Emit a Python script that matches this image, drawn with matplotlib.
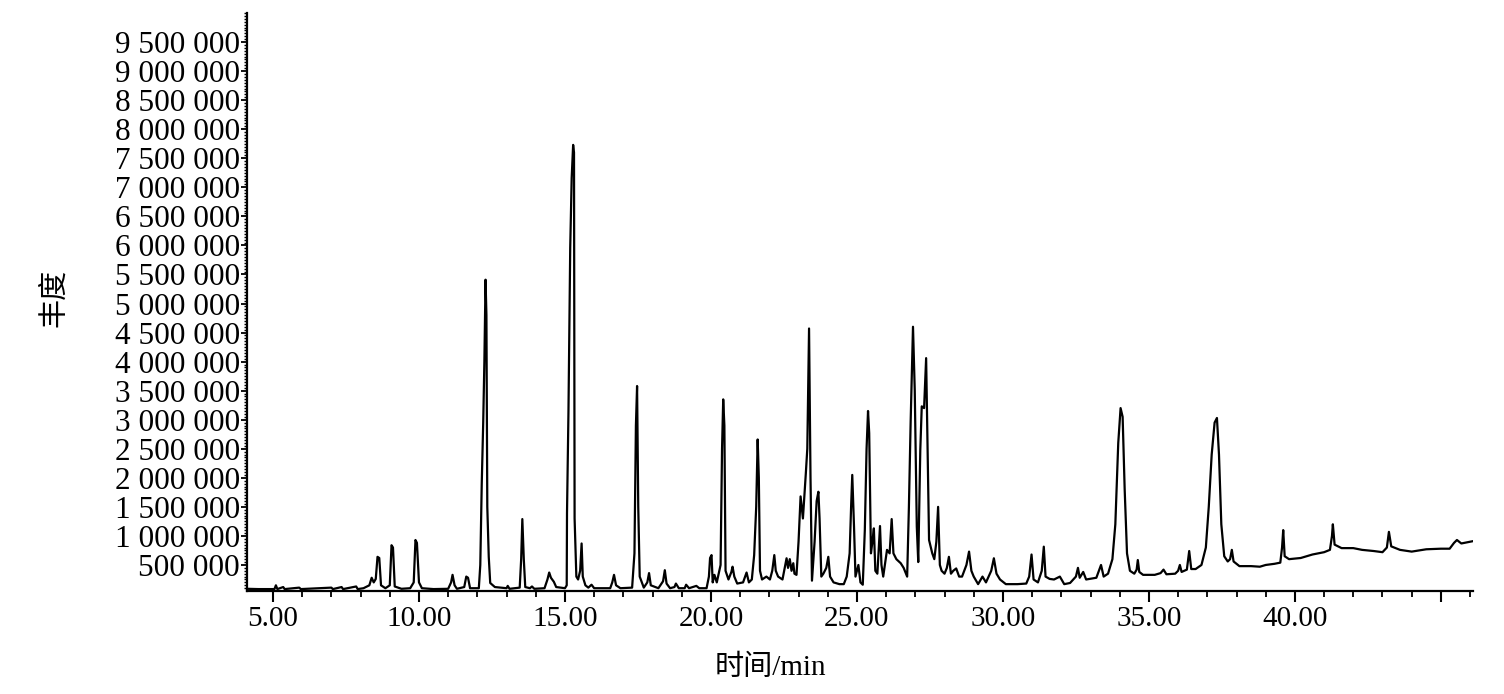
import matplotlib
matplotlib.use('Agg')
import matplotlib.pyplot as plt
from matplotlib.ticker import MultipleLocator, FixedLocator

# Chromatogram trace (retention time in min, abundance)
t_early = [4.11, 4.5, 5.05, 5.1, 5.15, 5.35, 5.4, 5.9, 5.95, 7.0, 7.05, 7.35, 7.4, 7.85, 7.9,
           8.1, 8.3, 8.38, 8.45, 8.52, 8.58, 8.64, 8.7, 8.85, 9.0, 9.06, 9.11, 9.17, 9.4, 9.7,
           9.82, 9.88, 9.93, 10.0, 10.1, 10.5, 11.0, 11.1, 11.15, 11.22, 11.3, 11.55, 11.62,
           11.68, 11.75, 12.05]
y_early = [90000, 85000, 85000, 150000, 85000, 120000, 85000, 110000, 85000, 110000, 85000,
           120000, 85000, 130000, 85000, 100000, 150000, 280000, 200000, 260000, 640000,
           620000, 150000, 100000, 150000, 840000, 800000, 130000, 90000, 100000, 200000,
           930000, 880000, 200000, 100000, 85000, 90000, 200000, 330000, 150000, 90000,
           120000, 300000, 280000, 100000, 100000]

t_mid = [12.1, 12.15, 12.2, 12.24, 12.28, 12.31, 12.34, 12.39, 12.44, 12.6, 13.0, 13.04, 13.1,
         13.45, 13.5, 13.54, 13.59, 13.64, 13.8, 13.87, 13.95, 14.3, 14.4, 14.46, 14.52, 14.62,
         14.7, 15.0, 15.06, 15.07, 15.12, 15.15, 15.18, 15.23, 15.28, 15.31, 15.33, 15.39,
         15.45, 15.52, 15.57, 15.61, 15.7, 15.8, 15.91, 16.0, 16.55, 16.62, 16.68, 16.75,
         16.9, 17.3, 17.38, 17.43, 17.47, 17.51, 17.56, 17.7, 17.82, 17.88, 17.94, 18.2,
         18.36, 18.42, 18.48, 18.6, 18.75, 18.8, 18.9, 19.1, 19.15, 19.25, 19.5, 19.6, 19.85]
y_mid = [500000, 1900000, 2950000, 4000000, 5410000, 4800000, 1500000, 640000, 190000, 120000,
         100000, 140000, 90000, 110000, 600000, 1290000, 600000, 120000, 100000, 130000,
         90000, 100000, 250000, 370000, 280000, 210000, 120000, 100000, 150000, 1390000,
         3140000, 4580000, 5960000, 7160000, 7730000, 7600000, 1300000, 300000, 250000,
         400000, 870000, 300000, 150000, 110000, 160000, 100000, 100000, 200000, 330000,
         150000, 100000, 110000, 700000, 2900000, 3580000, 1500000, 300000, 110000, 200000,
         360000, 150000, 100000, 220000, 410000, 180000, 100000, 120000, 180000, 100000,
         100000, 160000, 100000, 140000, 100000, 100000]

t_dense = [19.93, 19.97, 20.02, 20.06, 20.12, 20.2, 20.33, 20.38, 20.42, 20.46, 20.5, 20.6,
           20.7, 20.74, 20.8, 20.9, 21.1, 21.22, 21.3, 21.4, 21.48, 21.55, 21.6, 21.64, 21.68,
           21.75, 21.9, 22.02, 22.1, 22.17, 22.22, 22.3, 22.45, 22.59, 22.64, 22.7, 22.76,
           22.82, 22.86, 22.93, 23.0, 23.07, 23.15, 23.25, 23.3, 23.36, 23.41, 23.46, 23.55,
           23.62, 23.68, 23.72, 23.78, 23.85, 23.95, 24.02, 24.08, 24.2, 24.4, 24.55, 24.65,
           24.75, 24.8, 24.84, 24.9, 24.95, 25.05, 25.12, 25.2, 25.27, 25.33, 25.38, 25.42,
           25.48, 25.53, 25.58, 25.63, 25.7, 25.79, 25.84, 25.9, 26.03, 26.12, 26.19, 26.25,
           26.35, 26.5, 26.6, 26.72, 26.78, 26.84, 26.92, 26.98, 27.05, 27.1, 27.17, 27.22,
           27.3, 27.37, 27.42, 27.47, 27.58, 27.65, 27.72, 27.78, 27.84, 27.9, 28.0]
y_dense = [300000, 620000, 670000, 200000, 330000, 200000, 500000, 2500000, 3350000, 2900000,
           400000, 250000, 380000, 470000, 300000, 180000, 200000, 370000, 200000, 250000,
           670000, 1500000, 2660000, 2000000, 400000, 250000, 300000, 250000, 400000, 670000,
           400000, 300000, 250000, 615000, 450000, 600000, 400000, 530000, 350000, 330000,
           900000, 1680000, 1300000, 2080000, 2500000, 4570000, 2000000, 230000, 900000,
           1600000, 1760000, 1300000, 300000, 350000, 450000, 640000, 300000, 200000, 170000,
           170000, 300000, 700000, 1500000, 2050000, 1160000, 300000, 500000, 200000, 160000,
           1100000, 2500000, 3150000, 2770000, 700000, 900000, 1130000, 400000, 350000,
           1170000, 500000, 300000, 760000, 700000, 1290000, 700000, 600000, 530000, 450000,
           300000, 1500000, 2970000, 4600000, 3510000, 1160000, 550000, 2480000, 3230000,
           3200000, 4060000, 2480000, 930000, 700000, 600000, 900000, 1500000, 500000, 400000,
           350000]

t_late = [28.08, 28.15, 28.22, 28.3, 28.4, 28.5, 28.6, 28.75, 28.84, 28.92, 29.0, 29.15, 29.3,
          29.42, 29.6, 29.69, 29.78, 29.9, 30.1, 30.5, 30.8, 30.9, 30.98, 31.05, 31.2, 31.33,
          31.4, 31.46, 31.6, 31.75, 31.95, 32.1, 32.3, 32.5, 32.57, 32.63, 32.75, 32.85, 33.2,
          33.36, 33.45, 33.6, 33.75, 33.85, 33.95, 34.03, 34.1, 34.17, 34.25, 34.35, 34.5,
          34.58, 34.62, 34.67, 34.8, 35.2, 35.4, 35.5, 35.6, 35.9, 36.0, 36.06, 36.12, 36.3,
          36.38, 36.45, 36.6, 36.8, 36.95, 37.05, 37.15, 37.25, 37.33, 37.4, 37.48, 37.58,
          37.7, 37.78, 37.84, 37.9, 38.1, 38.5, 38.8, 39.0, 39.3, 39.5, 39.56, 39.6, 39.65,
          39.8, 40.2, 40.6, 41.0, 41.2, 41.27, 41.3, 41.36, 41.6, 42.0, 42.3, 42.7, 43.0,
          43.15, 43.22, 43.3, 43.6, 44.0, 44.5, 45.0, 45.3, 45.45, 45.55, 45.7, 46.0, 46.1]
y_late = [450000, 640000, 350000, 400000, 440000, 300000, 300000, 500000, 730000, 400000,
          300000, 170000, 300000, 200000, 400000, 615000, 350000, 250000, 170000, 170000,
          180000, 300000, 680000, 250000, 200000, 400000, 815000, 300000, 260000, 250000,
          300000, 170000, 190000, 300000, 450000, 280000, 380000, 250000, 280000, 500000,
          300000, 350000, 600000, 1200000, 2600000, 3200000, 3050000, 1800000, 700000,
          400000, 350000, 420000, 585000, 380000, 330000, 330000, 360000, 420000, 340000,
          350000, 400000, 500000, 380000, 420000, 740000, 430000, 430000, 500000, 800000,
          1500000, 2400000, 2950000, 3030000, 2400000, 1200000, 650000, 560000, 600000,
          760000, 560000, 480000, 480000, 470000, 500000, 520000, 540000, 800000, 1100000,
          650000, 600000, 620000, 680000, 720000, 760000, 1000000, 1200000, 850000, 790000,
          790000, 760000, 740000, 720000, 800000, 1070000, 820000, 760000, 730000, 770000,
          780000, 780000, 880000, 930000, 870000, 900000, 910000]

x_ticks = [5, 10, 15, 20, 25, 30, 35, 40, 45]
x_tick_labels = ['5.00', '10.00', '15.00', '20.00', '25.00', '30.00', '35.00', '40.00', '']
y_ticks = list(range(500000, 10000000, 500000))

times = t_early + t_mid + t_dense + t_late
abund = y_early + y_mid + y_dense + y_late

fig = plt.figure(figsize=(15.04, 6.94), dpi=100)
ax = fig.add_axes([247 / 1504, 1 - 591 / 694, 1226 / 1504, 578 / 694])

ax.plot(times, abund, color='black', linewidth=1.6)

ax.set_xlim(4.11, 46.1)
ax.set_ylim(52000, 10000000)

for side in ['top', 'right']:
    ax.spines[side].set_visible(False)
for side in ['left', 'bottom']:
    ax.spines[side].set_linewidth(1.6)

serif = 'Liberation Serif'
ax.xaxis.set_major_locator(FixedLocator(x_ticks))
ax.set_xticklabels(x_tick_labels, fontsize=21, family=serif)
ax.xaxis.set_minor_locator(MultipleLocator(1))
ax.yaxis.set_major_locator(FixedLocator(y_ticks))
ax.set_yticklabels([f'{v:,}'.replace(',', ' ') for v in y_ticks], fontsize=22.5, family=serif)
ax.yaxis.set_minor_locator(MultipleLocator(50000))

ax.tick_params(axis='x', which='major', length=8, width=1.5, pad=3)
ax.tick_params(axis='x', which='minor', length=4, width=1.3)
ax.tick_params(axis='y', which='major', length=4, width=1.3, pad=1)
ax.tick_params(axis='y', which='minor', length=2.5, width=1.0)

cjk = ['Liberation Serif', 'Noto Sans CJK SC']
fig.text(770 / 1504, 1 - 668 / 694, '时间/min', family=cjk, fontsize=21,
         ha='center', va='center')
fig.text(55 / 1504, 1 - 298 / 694, '丰度', family=cjk, fontsize=21,
         ha='center', va='center', rotation=90)

fig.savefig('out.png', dpi=100)
